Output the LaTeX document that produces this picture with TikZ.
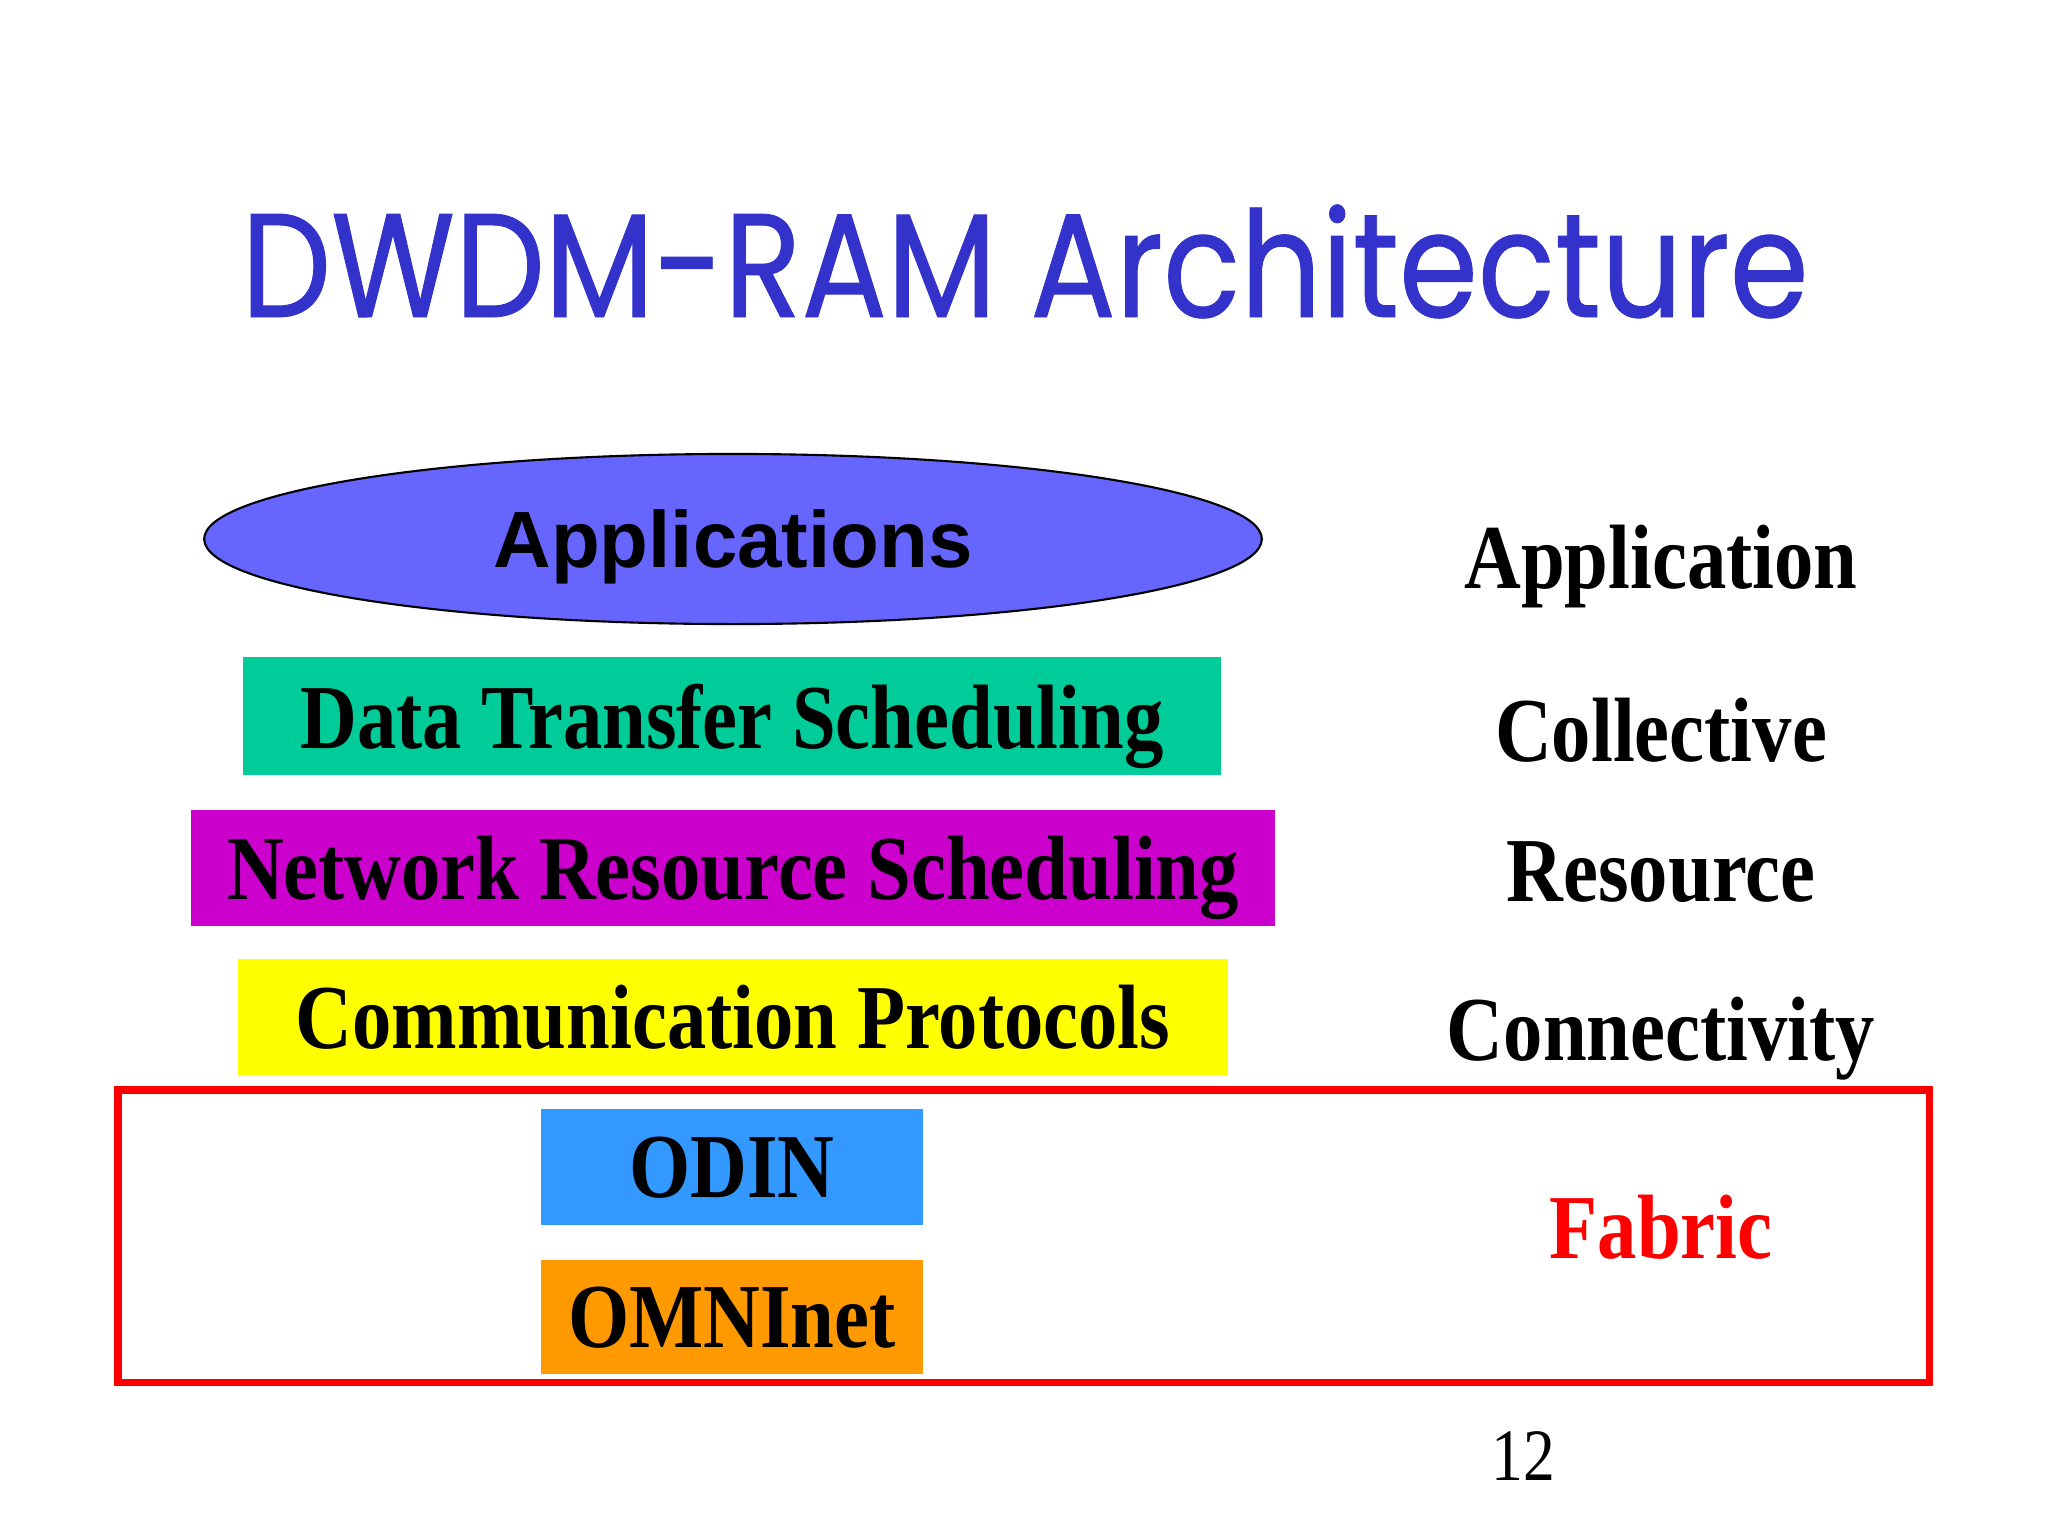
\documentclass[tikz,border=0pt]{standalone}
\usepackage{fontspec}
\setmainfont{Liberation Serif}
\newfontfamily\slidefont[FakeStretch=0.86]{Liberation Serif}
\newfontfamily\appfont{Liberation Sans}
\newfontfamily\titlefont[FakeStretch=0.86,FakeBold=0.6]{Poppins}
\usetikzlibrary{shapes.geometric}

\definecolor{titleblue}{HTML}{3333CC}
\definecolor{appblue}{HTML}{6666FF}
\definecolor{datagreen}{HTML}{00CC99}
\definecolor{netpurple}{HTML}{CC00CC}
\definecolor{commyellow}{HTML}{FFFF00}
\definecolor{odinblue}{HTML}{3399FF}
\definecolor{omniorange}{HTML}{FF9900}
\definecolor{fabricred}{HTML}{FF0000}

\tikzset{
  layer/.style={rectangle, inner sep=0pt, text=black, text depth=0pt,
    font=\slidefont\bfseries\fontsize{26}{30}\selectfont},
  side/.style={anchor=base, font=\slidefont\bfseries\fontsize{26}{30}\selectfont},
}

\begin{document}
\begin{tikzpicture}[x=0.01cm, y=-0.01cm]

  \useasboundingbox[fill=white] (0,0) rectangle (2048,1536);

  % Title
  \node[anchor=base, text=titleblue, font=\titlefont\fontsize{42}{48}\selectfont]
    (title) at (1025,317) {DWDM-RAM Architecture}; %

  % Stack of layers
  \node[ellipse, draw=black, line width=0.6pt, fill=appblue, inner sep=0pt,
        minimum width=10.57cm, minimum height=1.70cm, text depth=0pt,
        font=\appfont\bfseries\fontsize{22.7}{26}\selectfont]
    (apps) at (733,539) {Applications}; %
  \node[layer, fill=datagreen, minimum width=9.77cm, minimum height=1.18cm]
    (dts) at (732,716) {Data Transfer Scheduling}; %
  \node[layer, fill=netpurple, minimum width=10.84cm, minimum height=1.16cm]
    (nrs) at (733,868) {Network Resource Scheduling}; %
  \node[layer, fill=commyellow, minimum width=9.89cm, minimum height=1.15cm]
    (comm) at (733,1017) {Communication Protocols}; %

  % Fabric
  \node[layer, fill=odinblue, minimum width=3.81cm, minimum height=1.15cm]
    (odin) at (732,1167) {ODIN}; %
  \node[layer, fill=omniorange, minimum width=3.81cm, minimum height=1.14cm]
    (omni) at (732,1317) {OMNInet}; %
  \coordinate (fab-nw) at (118,1090);
  \coordinate (fab-se) at (1929,1382);
  \draw[fabricred, line width=2pt] (fab-nw) rectangle (fab-se);

  % Grid layer names
  \node[side] (l-app)  at (1661,588)  {Application}; %
  \node[side] (l-coll) at (1661,761)  {Collective}; %
  \node[side] (l-res)  at (1661,901)  {Resource}; %
  \node[side] (l-conn) at (1661,1060) {Connectivity}; %
  \node[side, text=fabricred] (l-fab) at (1661,1258) {Fabric}; %

  % page number
  \node[anchor=base, font=\slidefont\fontsize{21}{24}\selectfont] (page) at (1523,1480) {12}; %

\end{tikzpicture}
\end{document}
